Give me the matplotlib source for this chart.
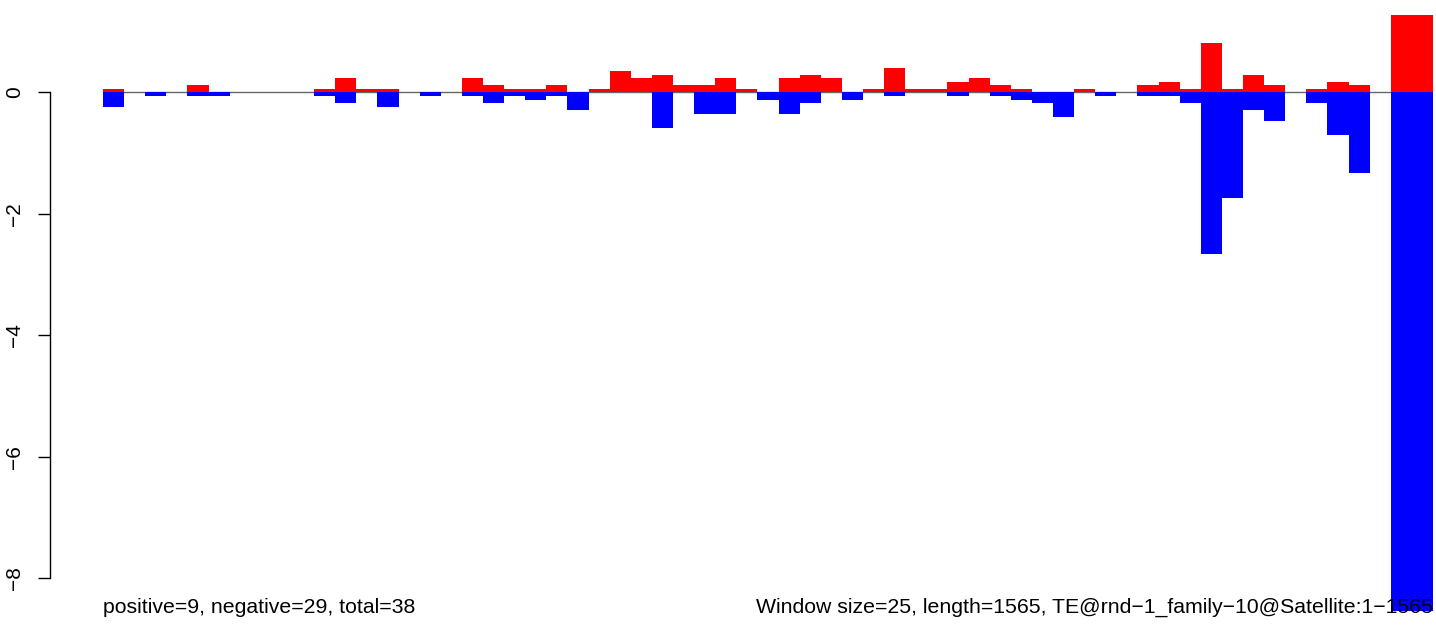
import matplotlib
matplotlib.use("Agg")
import matplotlib.pyplot as plt
import numpy as np

plt.rcParams['font.family'] = ['Liberation Sans', 'DejaVu Sans']

# window values (63 windows of 25 bp over 1565 bp)
positive = [0.05, 0, 0, 0, 0.115, 0, 0, 0, 0, 0,
            0.05, 0.23, 0.05, 0.05, 0, 0, 0, 0.23, 0.115, 0.05,
            0.05, 0.115, 0, 0.05, 0.35, 0.23, 0.28, 0.115, 0.115, 0.23,
            0.05, 0, 0.23, 0.28, 0.23, 0, 0.05, 0.40, 0.05, 0.05,
            0.17, 0.23, 0.115, 0.05, 0, 0, 0.05, 0, 0, 0.115,
            0.17, 0.05, 0.81, 0.05, 0.28, 0.115, 0, 0.05, 0.17, 0.115,
            0, 1.27, 1.27]
negative = [-0.25, 0, -0.066, 0, -0.066, -0.066, 0, 0, 0, 0,
            -0.066, -0.18, 0, -0.25, 0, -0.066, 0, -0.066, -0.18, -0.066,
            -0.13, -0.066, -0.30, 0, 0, 0, -0.59, 0, -0.36, -0.36,
            0, -0.13, -0.36, -0.18, 0, -0.13, 0, -0.066, 0, 0,
            -0.066, 0, -0.066, -0.13, -0.18, -0.41, 0, -0.066, 0, -0.066,
            -0.066, -0.18, -2.67, -1.74, -0.30, -0.48, 0, -0.18, -0.71, -1.33,
            0, -8.54, -8.54]
ytick_values = [0, -2, -4, -6, -8]
left_label = "positive=9, negative=29, total=38"
right_label = "Window size=25, length=1565, TE@rnd\u22121_family\u221210@Satellite:1\u22121565"

W, H = 1436, 634
fig = plt.figure(figsize=(W / 100, H / 100), dpi=100)
ax = fig.add_axes([103 / W, (H - 611) / H, (1433 - 103) / W, (611 - 15) / H])

n = len(positive)
x = np.arange(n)
ax.axhline(0, color='#666666', lw=1.0, zorder=1)
ax.bar(x, negative, width=1.0, align='edge', color='#0000FF', linewidth=0, zorder=2)
ax.bar(x, positive, width=1.0, align='edge', color='#FF0000', linewidth=0, zorder=3)

ax.set_xlim(0, n)
ax.set_ylim(min(negative), max(positive))

for s in ['top', 'right', 'bottom']:
    ax.spines[s].set_visible(False)
ax.spines['left'].set_position(('outward', 53 * 0.72))
ax.spines['left'].set_bounds(-8, 0)
ax.spines['left'].set_linewidth(1.0)
ax.set_xticks([])
ax.set_yticks(ytick_values)
ax.set_yticklabels([str(v).replace('-', '\u2212') for v in ytick_values],
                   rotation=90, va='center', fontsize=15)
ax.tick_params(axis='y', length=12 * 0.72, width=1.0, pad=10)
ax.patch.set_visible(False)

fig.text(103 / W, (H - 613) / H, left_label, ha='left', va='baseline', fontsize=15.3, zorder=10)
fig.text(1433 / W, (H - 613) / H, right_label, ha='right', va='baseline', fontsize=15.3, zorder=10)

fig.savefig("out.png", dpi=100)
